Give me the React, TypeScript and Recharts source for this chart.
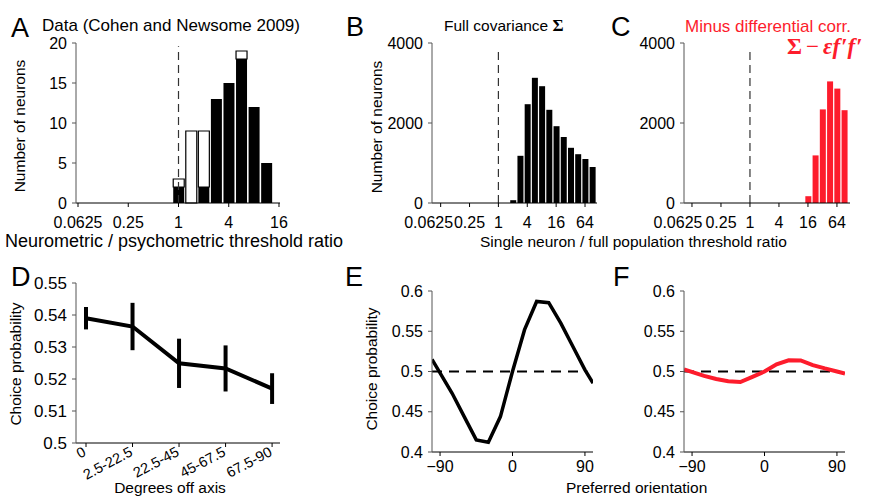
import React from 'react';
import { BarChart, Bar, XAxis, YAxis, ReferenceLine, LineChart, Line, ErrorBar } from 'recharts';

const FONT = '"Liberation Sans", Arial, Helvetica, sans-serif';
const SERIF = '"Liberation Serif", "Times New Roman", serif';
const RED = '#fd1c2c';
const AXGRAY = '#555';

// ---------- Panel A (log2 bin centres) ----------
const binsA = [-4, -3.5, -3, -2.5, -2, -1.5, -1, -0.5, 0, 0.5, 1, 1.5, 2, 2.5, 3, 3.5];
const blackA = [0, 0, 0, 0, 0, 0, 0, 0, 2, 0, 2, 13, 15, 18, 12, 5];
const whiteA = [0, 0, 0, 0, 0, 0, 0, 0, 1, 9, 7, 0, 0, 1, 0, 0];

// ---------- Panels B, C ----------
const binsBC = [-4, -3.5, -3, -2.5, -2, -1.5, -1, -0.5, 0, 0.5, 1, 1.5, 2, 2.5, 3, 3.5, 4, 4.5, 5, 5.5, 6, 6.5];
const countsB = [0, 0, 0, 0, 0, 0, 0, 0, 0, 0, 70, 1180, 2470, 3130, 2920, 2330, 1920, 1650, 1380, 1220, 1100, 900];
const countsC = [0, 0, 0, 0, 0, 0, 0, 0, 0, 0, 0, 0, 0, 0, 0, 0, 170, 1190, 2340, 3040, 2860, 2320];

const ratioTicks = [-4, -2, 0, 2, 4, 6];
const ratioLabels = ['0.0625', '0.25', '1', '4', '16', '64'];

// ---------- Panel D ----------
const categoriesD = ['0', '2.5-22.5', '22.5-45', '45-67.5', '67.5-90'];
const cpD = [0.539, 0.5364, 0.5249, 0.5233, 0.517];
const errD = [0.0035, 0.0074, 0.0077, 0.0072, 0.0048];
const ticksD = [0.5, 0.51, 0.52, 0.53, 0.54, 0.55];

// ---------- Panels E, F ----------
const orientations = [-100, -75, -60, -45, -30, -15, 0, 15, 30, 45, 60, 75, 90, 100];
const cpFull = [0.515, 0.473, 0.444, 0.415, 0.412, 0.444, 0.5, 0.552, 0.587, 0.5855, 0.56, 0.531, 0.502, 0.4855];
const cpMinus = [0.5025, 0.4946, 0.4907, 0.488, 0.487, 0.4934, 0.5, 0.509, 0.514, 0.5137, 0.508, 0.5038, 0.5, 0.4975];
const ticksCP = [0.4, 0.45, 0.5, 0.55, 0.6];
const ticksOri = [-90, 0, 90];

const dataA = binsA.map((b, i) => ({ bin: b, black: blackA[i], white: whiteA[i] }));
const dataB = binsBC.map((b, i) => ({ bin: b, n: countsB[i] }));
const dataC = binsBC.map((b, i) => ({ bin: b, n: countsC[i] }));
const dataD = categoriesD.map((c, i) => ({ x: i, cp: cpD[i], err: errD[i] }));
const dataE = orientations.map((o, i) => ({ x: o, cp: cpFull[i] }));
const dataF = orientations.map((o, i) => ({ x: o, cp: cpMinus[i] }));

const fmtRatio = (v: number) => ratioLabels[ratioTicks.indexOf(v)] ?? '';
const fmtOri = (v: number) => (v < 0 ? '\u2212' + Math.abs(v) : String(v));

const tickStyle = { fill: '#000', fontSize: 16, fontFamily: FONT };

const makeRatioTick = (firstDx: number) => (p: any) => {
  const v = p.payload.value;
  return (
    <text x={p.x + (v === -4 ? firstDx : 0)} y={p.y} dy="0.71em" textAnchor="middle"
      fill="#000" fontSize={16} fontFamily={FONT}>{fmtRatio(v)}</text>
  );
};

const DTick = (p: any) => {
  const x = p.x + 1;
  const y = p.y + 6;
  return (
    <text x={x} y={y} textAnchor="end" fill="#000" fontSize={14.5} fontFamily={FONT}
      transform={`rotate(-28, ${x}, ${y})`}>{categoriesD[p.payload.value]}</text>
  );
};

const yAxisCommon = {
  axisLine: { stroke: AXGRAY },
  tickLine: { stroke: AXGRAY },
  tickSize: 4,
  tickMargin: 5,
  tick: tickStyle,
};

const xAxisCommon = {
  axisLine: { stroke: '#000' },
  tickLine: { stroke: '#000' },
  tickSize: 4,
};

export default function App() {
  return (
    <div style={{ position: 'absolute', left: 0, top: 0, width: 871, height: 496, background: '#fff', fontFamily: FONT }}>
      {/* Panel A */}
      <div style={{ position: 'absolute', left: 20, top: 30 }}>
        <BarChart width={280} height={205} data={dataA} margin={{ top: 13, right: 20, bottom: 0, left: 0 }} barSize={11}>
          <XAxis type="number" dataKey="bin" domain={[-4.08, 4.04]} allowDataOverflow ticks={[-4, -2, 0, 2, 4]}
            interval={0} tickFormatter={fmtRatio} tick={tickStyle} tickMargin={10} height={32} {...xAxisCommon} />
          <YAxis type="number" domain={[0, 20]} ticks={[0, 5, 10, 15, 20]} width={56} interval={0} {...yAxisCommon} />
          <Bar dataKey="black" stackId="a" fill="#000" isAnimationActive={false} />
          <Bar dataKey="white" stackId="a" fill="#fff" stroke="#000" strokeWidth={1.2} isAnimationActive={false} />
          <ReferenceLine segment={[{ x: 0, y: 0 }, { x: 0, y: 19.6 }]} stroke="#333" strokeWidth={1.2} strokeDasharray="8 5" />
        </BarChart>
      </div>

      {/* Panel B */}
      <div style={{ position: 'absolute', left: 385, top: 30 }}>
        <BarChart width={225} height={205} data={dataB} margin={{ top: 13, right: 13, bottom: 0, left: 0 }} barSize={6}>
          <XAxis type="number" dataKey="bin" domain={[-4.6, 6.83]} allowDataOverflow ticks={ratioTicks}
            interval={0} tick={makeRatioTick(-12)} tickMargin={10} height={32} {...xAxisCommon} />
          <YAxis type="number" domain={[0, 4000]} ticks={[0, 2000, 4000]} width={47} interval={0} {...yAxisCommon} />
          <Bar dataKey="n" fill="#000" isAnimationActive={false} />
          <ReferenceLine segment={[{ x: 0, y: 0 }, { x: 0, y: 3880 }]} stroke="#333" strokeWidth={1.2} strokeDasharray="8 5" />
        </BarChart>
      </div>

      {/* Panel C */}
      <div style={{ position: 'absolute', left: 635, top: 30 }}>
        <BarChart width={230} height={205} data={dataC} margin={{ top: 13, right: 15, bottom: 0, left: 0 }} barSize={6}>
          <XAxis type="number" dataKey="bin" domain={[-4.55, 6.9]} allowDataOverflow ticks={ratioTicks}
            interval={0} tick={makeRatioTick(-14)} tickMargin={10} height={32} {...xAxisCommon} />
          <YAxis type="number" domain={[0, 4000]} ticks={[0, 2000, 4000]} width={49} interval={0} {...yAxisCommon} />
          <Bar dataKey="n" fill={RED} isAnimationActive={false} />
          <ReferenceLine segment={[{ x: 0, y: 0 }, { x: 0, y: 3820 }]} stroke="#333" strokeWidth={1.2} strokeDasharray="8 5" />
        </BarChart>
      </div>

      {/* Panel D */}
      <div style={{ position: 'absolute', left: 20, top: 270 }}>
        <LineChart width={280} height={226} data={dataD} margin={{ top: 13, right: 20, bottom: 0, left: 0 }}>
          <XAxis type="number" dataKey="x" domain={[-0.215, 4.17]} allowDataOverflow ticks={[0, 1, 2, 3, 4]}
            interval={0} tick={DTick} height={53} {...xAxisCommon} />
          <YAxis type="number" domain={[0.5, 0.55]} ticks={ticksD} width={56} interval={0}
            tickFormatter={(v: number) => String(+v.toFixed(2))} {...yAxisCommon} tick={{ ...tickStyle, fontSize: 17 }} />
          <Line type="linear" dataKey="cp" stroke="#000" strokeWidth={4} dot={false} isAnimationActive={false}>
            <ErrorBar dataKey="err" width={0} strokeWidth={4} stroke="#000" direction="y" />
          </Line>
        </LineChart>
      </div>

      {/* Panel E */}
      <div style={{ position: 'absolute', left: 380, top: 278 }}>
        <LineChart width={220} height={200} data={dataE} margin={{ top: 13, right: 7, bottom: 0, left: 0 }}>
          <XAxis type="number" dataKey="x" domain={[-100, 100]} allowDataOverflow ticks={ticksOri}
            interval={0} tickFormatter={fmtOri} tick={tickStyle} tickMargin={5} height={26} {...xAxisCommon} />
          <YAxis type="number" domain={[0.4, 0.6]} ticks={ticksCP} width={52} interval={0}
            tickFormatter={(v: number) => String(+v.toFixed(2))} {...yAxisCommon} />
          <ReferenceLine segment={[{ x: -100, y: 0.5 }, { x: 93, y: 0.5 }]} stroke="#000" strokeWidth={2} strokeDasharray="10 7" />
          <Line type="linear" dataKey="cp" stroke="#000" strokeWidth={3.5} dot={false} isAnimationActive={false} />
        </LineChart>
      </div>

      {/* Panel F */}
      <div style={{ position: 'absolute', left: 632, top: 278 }}>
        <LineChart width={220} height={200} data={dataF} margin={{ top: 13, right: 7, bottom: 0, left: 0 }}>
          <XAxis type="number" dataKey="x" domain={[-100, 100]} allowDataOverflow ticks={ticksOri}
            interval={0} tickFormatter={fmtOri} tick={tickStyle} tickMargin={5} height={26} {...xAxisCommon} />
          <YAxis type="number" domain={[0.4, 0.6]} ticks={ticksCP} width={52} interval={0}
            tickFormatter={(v: number) => String(+v.toFixed(2))} {...yAxisCommon} />
          <ReferenceLine segment={[{ x: -100, y: 0.5 }, { x: 93, y: 0.5 }]} stroke="#000" strokeWidth={2} strokeDasharray="10 7" />
          <Line type="linear" dataKey="cp" stroke={RED} strokeWidth={4} dot={false} isAnimationActive={false} />
        </LineChart>
      </div>

      {/* Text overlay */}
      <svg width={871} height={496} style={{ position: 'absolute', left: 0, top: 0, pointerEvents: 'none' }}>
        <g fontFamily={FONT} fill="#000">
          <text x={11} y={37} fontSize={27}>A</text>
          <text x={42} y={31} fontSize={17}>Data (Cohen and Newsome 2009)</text>
          <text x={346} y={36} fontSize={27}>B</text>
          <text x={444} y={31} fontSize={15.5}>Full covariance <tspan fontFamily={SERIF} fontWeight="bold" fontSize={17}>Σ</tspan></text>
          <text x={611} y={36} fontSize={27}>C</text>
          <text x={685} y={31.5} fontSize={17} fill={RED}>Minus differential corr.</text>
          <text x={787} y={54} fontSize={23} fill={RED} fontFamily={SERIF} fontWeight="bold">Σ<tspan fontWeight="normal" dx={4}>−</tspan><tspan fontStyle="italic" dx={4}>ε</tspan><tspan fontStyle="italic">f</tspan><tspan dx={1}>′</tspan><tspan fontStyle="italic">f</tspan><tspan dx={1}>′</tspan></text>
          <text transform="rotate(-90, 25, 126)" x={25} y={126} fontSize={15.5} textAnchor="middle">Number of neurons</text>
          <text transform="rotate(-90, 382, 127)" x={382} y={127} fontSize={15.5} textAnchor="middle">Number of neurons</text>
          <text x={174} y={247} fontSize={18} textAnchor="middle">Neurometric / psychometric threshold ratio</text>
          <text x={480} y={247} fontSize={15.5}>Single neuron / full population threshold ratio</text>
          <text x={11} y={286} fontSize={27}>D</text>
          <text x={345} y={286} fontSize={27}>E</text>
          <text x={613} y={286} fontSize={27}>F</text>
          <text transform="rotate(-90, 21, 364)" x={21} y={364} fontSize={15.5} textAnchor="middle">Choice probability</text>
          <text transform="rotate(-90, 377, 369)" x={377} y={369} fontSize={15.5} textAnchor="middle">Choice probability</text>
          <text x={170} y={493} fontSize={15.5} textAnchor="middle">Degrees off axis</text>
          <text x={566} y={493} fontSize={15.5}>Preferred orientation</text>
        </g>
      </svg>
    </div>
  );
}
